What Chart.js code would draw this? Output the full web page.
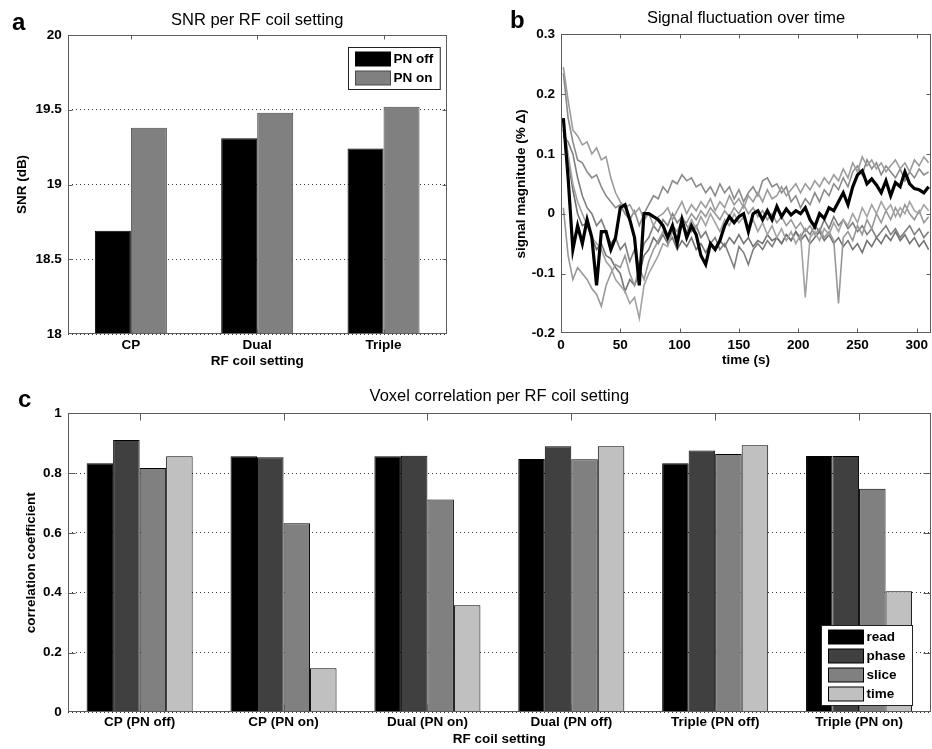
<!DOCTYPE html>
<html>
<head>
<meta charset="utf-8">
<script src="https://cdn.jsdelivr.net/npm/chart.js@4.4.0/dist/chart.umd.min.js"></script>
<style>
  body { margin: 0; background: #fff; }
  canvas { position: absolute; }
</style>
</head>
<body>
<canvas id="snr" width="470" height="378" style="left:0;top:0"></canvas>
<canvas id="signal" width="462" height="378" style="left:470px;top:0"></canvas>
<canvas id="corr" width="932" height="371" style="left:0;top:378px"></canvas>
<script>
// panel a
const coilSettings = ['CP', 'Dual', 'Triple']
const snrPnOff = [18.69, 19.31, 19.24]
const snrPnOn = [19.38, 19.48, 19.52]

// panel b, time in seconds
const timeSec = [2, 6, 10, 14, 18, 22, 26, 30, 34, 38,
  42, 46, 50, 54, 58, 62, 66, 70, 74, 78,
  82, 86, 90, 94, 98, 102, 106, 110, 114, 118,
  122, 126, 130, 134, 138, 142, 146, 150, 154, 158,
  162, 166, 170, 174, 178, 182, 186, 190, 194, 198,
  202, 206, 210, 214, 218, 222, 226, 230, 234, 238,
  242, 246, 250, 254, 258, 262, 266, 270, 274, 278,
  282, 286, 290, 294, 298, 302, 306, 310]
const sigMain = [0.16, 0.06, -0.06, -0.02, -0.05, -0.01, -0.04, -0.12, -0.03, -0.03,
  -0.06, -0.04, 0.01, 0.015, -0.01, -0.04, -0.12, 0.0, 0.0, -0.005,
  -0.01, -0.02, -0.04, -0.02, -0.05, -0.01, -0.04, -0.02, -0.035, -0.07,
  -0.085, -0.05, -0.06, -0.045, -0.02, -0.005, -0.015, -0.005, 0.0, -0.03,
  0.0, 0.005, -0.01, 0.005, -0.01, 0.012, -0.005, 0.008, -0.002, 0.005,
  0.0, 0.01, -0.01, -0.022, 0.0, -0.008, 0.01, 0.005, 0.02, 0.035,
  0.015, 0.045, 0.065, 0.072, 0.05, 0.058, 0.048, 0.035, 0.055, 0.03,
  0.052, 0.045, 0.07, 0.05, 0.042, 0.04, 0.035, 0.045]
const sig1 = [0.245, 0.19, 0.14, 0.13, 0.115, 0.12, 0.1, 0.11, 0.09, 0.095,
  0.06, 0.035, 0.02, 0.01, 0.015, 0.0, 0.01, -0.01, 0.0, -0.02,
  -0.005, 0.0, 0.01, -0.01, 0.005, 0.02, 0.0, 0.015, 0.005, 0.02,
  0.01, 0.025, 0.005, 0.02, 0.01, 0.03, 0.015, 0.025, 0.01, 0.03,
  0.02, 0.035, 0.02, 0.04, 0.025, 0.03, 0.045, 0.03, 0.04, 0.05,
  0.035, 0.05, 0.04, 0.055, 0.045, 0.06, 0.05, 0.065, 0.055, 0.075,
  0.06, 0.085, 0.07, 0.095, 0.08, 0.09, 0.075, 0.085, 0.07, 0.08,
  0.09, 0.075, 0.085, 0.07, 0.09, 0.08, 0.095, 0.085]
const sig2 = [0.235, 0.16, 0.12, 0.09, 0.085, 0.07, 0.06, 0.065, 0.045, 0.03,
  0.02, 0.01, 0.015, 0.0, -0.01, 0.005, -0.02, 0.0, 0.015, 0.03,
  0.025, 0.045, 0.035, 0.055, 0.05, 0.065, 0.055, 0.06, 0.045, 0.05,
  0.035, 0.045, 0.03, 0.05, 0.035, 0.045, 0.025, 0.04, 0.02, 0.035,
  0.045, 0.03, 0.055, 0.06, 0.045, 0.05, 0.035, 0.045, 0.02, 0.03,
  0.01, 0.025, 0.015, 0.035, 0.02, 0.04, 0.03, 0.05, 0.04, 0.06,
  0.045, 0.07, 0.08, 0.065, 0.09, 0.075, 0.085, 0.065, 0.08, 0.07,
  0.06, 0.075, 0.055, 0.07, 0.06, 0.075, 0.065, 0.07]
const sig3 = [0.15, 0.1, 0.05, 0.02, 0.0, -0.02, -0.04, -0.05, -0.06, -0.08,
  -0.09, -0.11, -0.12, -0.13, -0.15, -0.14, -0.175, -0.12, -0.1, -0.085,
  -0.07, -0.05, -0.055, -0.03, -0.04, -0.02, -0.03, -0.01, -0.025, -0.005,
  -0.02, 0.0, -0.015, -0.03, -0.01, -0.02, 0.0, -0.015, -0.005, -0.025,
  -0.01, -0.03, -0.015, -0.035, -0.02, -0.04, -0.025, -0.045, -0.03, -0.05,
  -0.035, -0.14, -0.04, -0.03, -0.045, -0.025, -0.035, -0.015, -0.03, -0.01,
  -0.02, 0.0, -0.015, 0.01, -0.005, 0.015, 0.0, 0.02, 0.005, 0.015,
  -0.005, 0.01, 0.0, 0.02, 0.005, 0.0, 0.015, 0.005]
const sig4 = [0.01, -0.07, -0.11, -0.09, -0.1, -0.11, -0.125, -0.135, -0.155, -0.12,
  -0.1, -0.085, -0.09, -0.07, -0.1, -0.12, -0.09, -0.11, -0.08, -0.06,
  -0.045, -0.03, -0.04, -0.02, -0.03, -0.01, -0.015, 0.0, -0.01, 0.005,
  -0.005, 0.01, 0.0, -0.01, 0.005, -0.005, 0.01, 0.0, 0.015, 0.0,
  0.01, -0.005, 0.005, -0.01, 0.0, -0.015, -0.005, -0.02, -0.01, -0.025,
  -0.015, -0.03, -0.02, -0.035, -0.025, -0.04, -0.03, -0.045, -0.15, -0.04,
  -0.03, -0.045, -0.02, -0.035, -0.01, -0.025, 0.0, -0.015, 0.005, -0.01,
  0.01, -0.005, 0.015, 0.0, -0.01, 0.005, -0.015, -0.005]
const sig5 = [0.14, 0.09, 0.04, 0.0, -0.02, -0.015, -0.04, -0.06, -0.05, -0.07,
  -0.075, -0.09, -0.1, -0.13, -0.11, -0.12, -0.1, -0.07, -0.06, -0.04,
  -0.05, -0.035, -0.05, -0.04, -0.06, -0.045, -0.055, -0.04, -0.06, -0.05,
  -0.065, -0.05, -0.06, -0.045, -0.055, -0.04, -0.05, -0.035, -0.05, -0.04,
  -0.055, -0.045, -0.05, -0.035, -0.045, -0.04, -0.05, -0.035, -0.045, -0.03,
  -0.045, -0.035, -0.05, -0.04, -0.03, -0.045, -0.035, -0.05, -0.04, -0.055,
  -0.045, -0.06, -0.05, -0.065, -0.045, -0.055, -0.04, -0.05, -0.035, -0.045,
  -0.03, -0.045, -0.035, -0.05, -0.04, -0.055, -0.045, -0.06]
const sig6 = [0.13, 0.12, 0.1, 0.06, 0.03, 0.01, 0.0, -0.02, -0.01, -0.03,
  -0.05, -0.04, -0.06, -0.05, -0.08, -0.06, -0.09, -0.05, -0.04, -0.02,
  -0.03, -0.01, -0.02, 0.0, -0.015, -0.005, -0.02, -0.03, -0.02, -0.04,
  -0.03, -0.05, -0.04, -0.06, -0.05, -0.07, -0.09, -0.055, -0.065, -0.085,
  -0.06, -0.05, -0.06, -0.045, -0.055, -0.04, -0.05, -0.035, -0.045, -0.03,
  -0.04, -0.025, -0.035, -0.02, -0.03, -0.01, -0.025, -0.005, -0.02, -0.01,
  -0.025, -0.015, -0.03, -0.02, -0.035, -0.025, -0.04, -0.03, -0.02, -0.035,
  -0.025, -0.04, -0.03, -0.02, -0.035, -0.025, -0.04, -0.03]

// panel c
const corrSettings = ['CP (PN off)', 'CP (PN on)', 'Dual (PN on)', 'Dual (PN off)', 'Triple (PN off)', 'Triple (PN on)']
const corrRead = [0.833, 0.856, 0.856, 0.847, 0.833, 0.857]
const corrPhase = [0.911, 0.853, 0.858, 0.89, 0.876, 0.857]
const corrSlice = [0.817, 0.632, 0.712, 0.846, 0.864, 0.748]
const corrTime = [0.856, 0.147, 0.358, 0.89, 0.893, 0.405]

const FONT = '"Liberation Sans", Arial, Helvetica, sans-serif'
Chart.defaults.font.family = FONT
Chart.defaults.color = '#000'
Chart.defaults.animation = false

const tickFont = { size: 13.5, weight: 'bold' }
const titleFont = { size: 16.5, weight: 'normal' }

// matlab style box, inward ticks, boxed legend and panel letter
const matlabAxes = {
  id: 'matlabAxes',
  afterDraw(chart, args, opts) {
    const ctx = chart.ctx
    const a = chart.chartArea
    const xs = chart.scales.x, ys = chart.scales.y
    const L = Math.round(a.left) + 0.5, R = Math.round(a.right) - 0.5
    const T = Math.round(a.top) + 0.5, B = Math.round(a.bottom) - 0.5
    const len = opts.tickLen
    ctx.save()
    ctx.strokeStyle = '#5c5c5c'
    ctx.lineWidth = 1
    ctx.strokeRect(L, T, R - L, B - T)
    ctx.beginPath()
    xs.ticks.forEach((t, i) => {
      const px = Math.round(xs.getPixelForTick(i)) + 0.5
      if (px <= L + 1 || px >= R - 1) return
      ctx.moveTo(px, B); ctx.lineTo(px, B - len)
      ctx.moveTo(px, T); ctx.lineTo(px, T + len)
    })
    ys.ticks.forEach((t, i) => {
      const py = Math.round(ys.getPixelForTick(i)) + 0.5
      if (py <= T + 1 || py >= B - 1) return
      ctx.moveTo(L, py); ctx.lineTo(L + len, py)
      ctx.moveTo(R, py); ctx.lineTo(R - len, py)
    })
    ctx.stroke()

    if (opts.legend) {
      const sets = chart.data.datasets
      ctx.font = 'bold 13.5px ' + FONT
      let tw = 0
      for (let d of sets) tw = Math.max(tw, ctx.measureText(d.label).width)
      const w = 7 + 35 + 3 + tw + 7
      const h = 4.5 + (sets.length - 1) * 19 + 14 + 4.5
      const x0 = Math.round(a.right - opts.legend.right - w) + 0.5
      const y0 = opts.legend.top !== undefined
        ? Math.round(a.top + opts.legend.top) + 0.5
        : Math.round(a.bottom - opts.legend.bottom - h) + 0.5
      ctx.fillStyle = '#fff'
      ctx.fillRect(x0, y0, w, h)
      ctx.strokeStyle = '#222'
      ctx.strokeRect(x0, y0, w, h)
      sets.forEach((d, i) => {
        const sy = y0 + 4.5 + i * 19
        ctx.fillStyle = d.backgroundColor
        ctx.fillRect(x0 + 7, sy, 35, 14)
        ctx.strokeStyle = d.borderColor
        ctx.strokeRect(x0 + 7, sy, 35, 14)
        ctx.fillStyle = '#000'
        ctx.textBaseline = 'middle'
        ctx.textAlign = 'left'
        ctx.fillText(d.label, x0 + 45, sy + 7.5)
      })
    }

    ctx.font = 'bold 24px ' + FONT
    ctx.fillStyle = '#000'
    ctx.textAlign = 'left'
    ctx.textBaseline = 'alphabetic'
    ctx.fillText(opts.letter[0], opts.letter[1], opts.letter[2])
    ctx.restore()
  }
}

function fmt1(v) { return +Number(v).toFixed(1) }

// a
new Chart(document.getElementById('snr'), {
  type: 'bar',
  data: {
    labels: coilSettings,
    datasets: [
      { label: 'PN off', data: snrPnOff, backgroundColor: '#000000', borderColor: '#000000', borderWidth: 1 },
      { label: 'PN on', data: snrPnOn, backgroundColor: '#808080', borderColor: '#4a4a4a', borderWidth: 1 }
    ]
  },
  options: {
    responsive: false,
    layout: { padding: { left: 0, right: 23.3, top: 0, bottom: 0 } },
    datasets: { bar: { categoryPercentage: 0.57, barPercentage: 1 } },
    plugins: {
      legend: { display: false },
      tooltip: { enabled: false },
      title: { display: true, fullSize: false, text: 'SNR per RF coil setting', font: titleFont, padding: { top: 10.1, bottom: 5.1 } },
      matlabAxes: { tickLen: 4, letter: ['a', 12, 30], legend: { right: 6.7, top: 12 } }
    },
    scales: {
      x: {
        grid: { display: false, drawTicks: false },
        border: { display: false },
        ticks: { font: tickFont, padding: 3 },
        title: { display: true, text: 'RF coil setting', font: tickFont, padding: { top: 0, bottom: 8.2 } },
        afterFit(s) { s.height = 44 }
      },
      y: {
        min: 18, max: 20,
        grid: { color: '#333', drawTicks: false },
        border: { display: false, dash: [1, 3] },
        ticks: { stepSize: 0.5, font: tickFont, padding: 6, callback: v => +Number(v).toFixed(1) },
        title: { display: true, text: 'SNR (dB)', font: tickFont, padding: { top: 14.6, bottom: 0 } },
        afterFit(s) { s.width = 67.7 }
      }
    }
  },
  plugins: [matlabAxes]
})

// b
function series(vals) {
  return vals.map((v, i) => ({ x: timeSec[i], y: v }))
}
const grayLines = [
  [sig1, '#9c9c9c'], [sig2, '#8a8a8a'], [sig3, '#a2a2a2'],
  [sig4, '#989898'], [sig5, '#727272'], [sig6, '#7e7e7e']
]
const lineSets = [{ label: 'main', data: series(sigMain), borderColor: '#000', borderWidth: 3.2 }]
grayLines.forEach((g, i) => lineSets.push({ label: 'run' + (i + 1), data: series(g[0]), borderColor: g[1], borderWidth: 1.6 }))

new Chart(document.getElementById('signal'), {
  type: 'line',
  data: { datasets: lineSets },
  options: {
    responsive: false,
    layout: { padding: { left: 0, right: 1, top: 0, bottom: 0 } },
    elements: { point: { radius: 0 }, line: { tension: 0, fill: false } },
    plugins: {
      legend: { display: false },
      tooltip: { enabled: false },
      title: { display: true, fullSize: false, text: 'Signal fluctuation over time', font: titleFont, padding: { top: 8.4, bottom: 6.1 } },
      matlabAxes: { tickLen: 4, letter: ['b', 40, 28] }
    },
    scales: {
      x: {
        type: 'linear', min: 0, max: 312,
        grid: { display: false, drawTicks: false },
        border: { display: false },
        ticks: { stepSize: 50, includeBounds: false, autoSkip: false, font: tickFont, padding: 3.6 },
        title: { display: true, text: 'time (s)', font: tickFont, padding: { top: 0, bottom: 9.9 } },
        afterFit(s) { s.height = 44.7 }
      },
      y: {
        min: -0.2, max: 0.3,
        grid: { display: false, drawTicks: false },
        border: { display: false },
        ticks: { stepSize: 0.1, font: tickFont, padding: 6, callback: fmt1 },
        title: { display: true, text: 'signal magnitude (% Δ)', font: tickFont, padding: { top: 43.6, bottom: 0 } },
        afterFit(s) { s.width = 91 }
      }
    }
  },
  plugins: [matlabAxes]
})

// c
new Chart(document.getElementById('corr'), {
  type: 'bar',
  data: {
    labels: corrSettings,
    datasets: [
      { label: 'read', data: corrRead, backgroundColor: '#000000', borderColor: '#000000', borderWidth: 1 },
      { label: 'phase', data: corrPhase, backgroundColor: '#404040', borderColor: '#000000', borderWidth: 1 },
      { label: 'slice', data: corrSlice, backgroundColor: '#808080', borderColor: '#000000', borderWidth: 1 },
      { label: 'time', data: corrTime, backgroundColor: '#c0c0c0', borderColor: '#000000', borderWidth: 1 }
    ]
  },
  options: {
    responsive: false,
    layout: { padding: { left: 0, right: 1, top: 0, bottom: 0 } },
    datasets: { bar: { categoryPercentage: 0.737, barPercentage: 1 } },
    plugins: {
      legend: { display: false },
      tooltip: { enabled: false },
      title: { display: true, fullSize: false, text: 'Voxel correlation per RF coil setting', font: titleFont, padding: { top: 8.8, bottom: 6.7 } },
      matlabAxes: { tickLen: 7, letter: ['c', 18, 29], legend: { right: 19.3, bottom: 7.3 } }
    },
    scales: {
      x: {
        grid: { display: false, drawTicks: false },
        border: { display: false },
        ticks: { font: tickFont, padding: 2.3 },
        title: { display: true, text: 'RF coil setting', font: tickFont, padding: { top: 0, bottom: 1.6 } },
        afterFit(s) { s.height = 36.7 }
      },
      y: {
        min: 0, max: 1,
        grid: { color: '#333', drawTicks: false },
        border: { display: false, dash: [1, 3] },
        ticks: { stepSize: 0.2, font: tickFont, padding: 6, callback: fmt1 },
        title: { display: true, text: 'correlation coefficient', font: tickFont, padding: { top: 23.6, bottom: 0 } },
        afterFit(s) { s.width = 67.7 }
      }
    }
  },
  plugins: [matlabAxes]
})
</script>
</body>
</html>
